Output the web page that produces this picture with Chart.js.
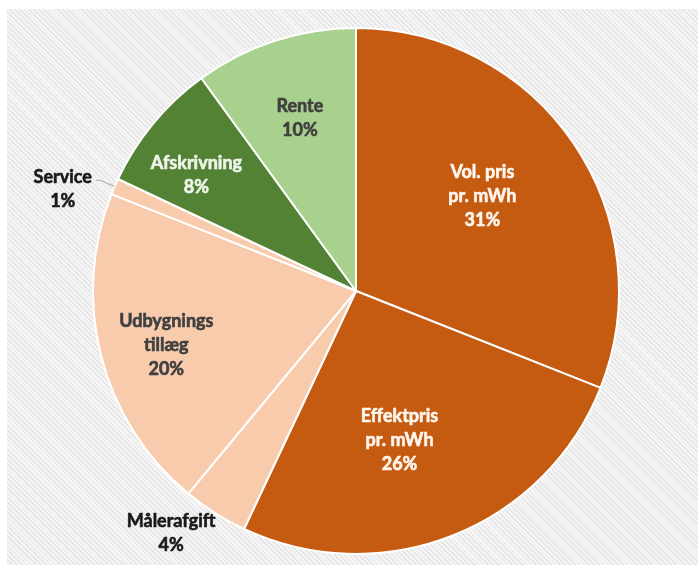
<!DOCTYPE html>
<html>
<head>
<meta charset="utf-8">
<title>Pie</title>
<script src="https://cdn.jsdelivr.net/npm/chart.js@4.4.0/dist/chart.umd.min.js"></script>
<style>
    html, body { margin: 0; padding: 0; background: #fff; }
    #wrap { position: relative; width: 698px; height: 565px; overflow: hidden; }
    #hatch {
        position: absolute; left: 7px; top: 9px; right: 0; bottom: 0;
        background: repeating-linear-gradient(45deg, #e4e4e4 0 1.2px, #f5f5f5 1.2px 3.4px);
    }
    #pieChart { position: absolute; left: 0; top: 0; }
</style>
</head>
<body>
<div id="wrap">
    <div id="hatch"></div>
    <canvas id="pieChart" width="698" height="565"></canvas>
</div>
<script>
// Chart data
const categories = [
    ['Vol. pris', 'pr. mWh'],
    ['Effektpris', 'pr. mWh'],
    ['Målerafgift'],
    ['Udbygnings', 'tillæg'],
    ['Service'],
    ['Afskrivning'],
    ['Rente']
];
const shares = [31, 26, 4, 20, 1, 8, 10];
const sliceColors = ['#C55A11', '#C55A11', '#F8CBAD', '#F8CBAD', '#F8CBAD', '#548235', '#A9D18E'];
const labelColors = ['#FFF6EE', '#FFF6EE', '#1a1a1a', '#404040', '#1a1a1a', '#F0F5EC', '#404040'];

// Label placement (fraction of radius, angle nudge in degrees)
const labelRadius = [0.60, 0.59, 1.16, 0.75, 1.18, 0.75, 0.69];
const labelShift = [-2.6, 5.3, 4.9, -1.5, -4.3, -3.6, 0];
const LINE_HEIGHT = 24;

const sliceLabels = {
    id: 'sliceLabels',
    afterDatasetsDraw(chart) {
        const ctx = chart.ctx;
        const meta = chart.getDatasetMeta(0);
        ctx.save();
        ctx.font = 'bold 18px Lato';
        ctx.textAlign = 'center';
        ctx.textBaseline = 'middle';
        ctx.lineJoin = 'round';
        meta.data.forEach((arc, i) => {
            const p = arc.getProps(['x', 'y', 'startAngle', 'endAngle', 'outerRadius']);
            const mid = (p.startAngle + p.endAngle) / 2;
            const a = mid + labelShift[i] * Math.PI / 180;
            const r = p.outerRadius * labelRadius[i];
            const cx = p.x + Math.cos(a) * r;
            const cy = p.y + Math.sin(a) * r;

            // leader line for the thin slice
            if (labelRadius[i] > 1 && shares[i] < 2) {
                const x0 = p.x + Math.cos(mid) * p.outerRadius;
                const y0 = p.y + Math.sin(mid) * p.outerRadius;
                const x1 = p.x + Math.cos(mid) * p.outerRadius * 1.06;
                const y1 = p.y + Math.sin(mid) * p.outerRadius * 1.06;
                ctx.strokeStyle = '#a6a6a6';
                ctx.lineWidth = 1;
                ctx.beginPath();
                ctx.moveTo(x0, y0);
                ctx.lineTo(x1, y1);
                ctx.lineTo(x1 - 4, y1);
                ctx.stroke();
            }

            const lines = [...categories[i], shares[i] + '%'];
            const top = cy - (lines.length - 1) * LINE_HEIGHT / 2;
            ctx.fillStyle = labelColors[i];
            ctx.strokeStyle = labelColors[i];
            ctx.lineWidth = 0.6;
            lines.forEach((t, k) => {
                ctx.fillText(t, cx, top + k * LINE_HEIGHT);
                ctx.strokeText(t, cx, top + k * LINE_HEIGHT);
            });
        });
        ctx.restore();
    }
};

new Chart(document.getElementById('pieChart'), {
    type: 'pie',
    data: {
        labels: categories.map(c => c.join(' ')),
        datasets: [{
            data: shares,
            backgroundColor: sliceColors,
            borderColor: '#ffffff',
            borderWidth: 2
        }]
    },
    options: {
        responsive: false,
        animation: false,
        layout: {
            padding: { top: 27, bottom: 10, left: 14, right: 0 }
        },
        plugins: {
            legend: { display: false },
            tooltip: { enabled: false }
        }
    },
    plugins: [sliceLabels]
});
</script>
</body>
</html>
